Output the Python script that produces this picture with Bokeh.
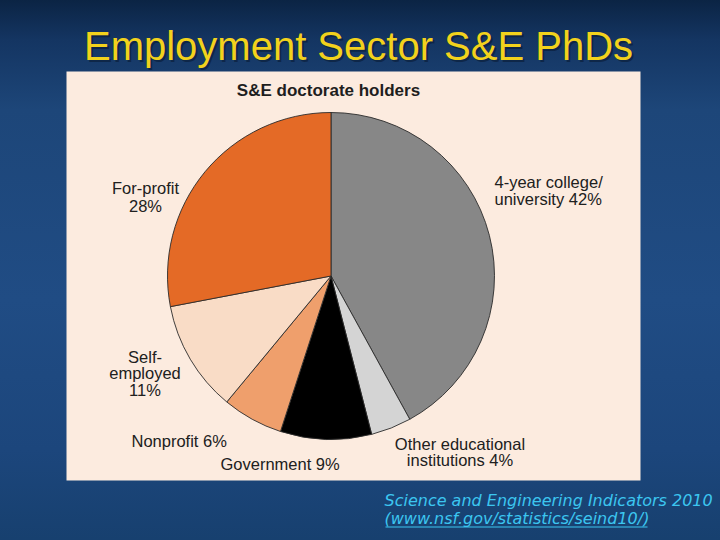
import numpy as np
from bokeh.plotting import figure
from bokeh.models import Range1d, ColumnDataSource, GlobalInlineStyleSheet
from bokeh.core.properties import value
from bokeh.embed import file_html
from bokeh.resources import INLINE

# ---------------- data ----------------
title = "Employment Sector S&E PhDs"
subtitle = "S&E doctorate holders"
sectors = ["4-year college/university", "Other educational institutions",
           "Government", "Nonprofit", "Self-employed", "For-profit"]
shares = [42, 4, 9, 6, 11, 28]
slice_colors = ["#878787", "#d4d4d4", "#000000", "#ef9f6c", "#f9dcc6", "#e46a26"]
label_templates = [["4-year college/", "university {}%"],
                   ["Other educational", "institutions {}%"],
                   ["Government {}%"],
                   ["Nonprofit {}%"],
                   ["Self-", "employed", "{}%"],
                   ["For-profit", "{}%"]]
source_lines = ["Science and Engineering Indicators 2010",
                "(www.nsf.gov/statistics/seind10/)"]

# ---------------- layout (page pixel coords) ----------------
W, H = 720, 540
def Y(py):
    return H - py

cx, cy, rad = 330.5, 275.5, 163.5
# anchor x, first line centre y, align, line spacing
label_layout = [(494, 181, "left", 17.5),
                (459.5, 443, "center", 16.5),
                (220, 463, "left", 17),
                (131, 440, "left", 17),
                (144.5, 356, "center", 16.8),
                (145, 187, "center", 18)]

p = figure(width=W, height=H, output_backend="svg", toolbar_location=None,
           x_range=Range1d(0, W), y_range=Range1d(0, H),
           x_axis_type=None, y_axis_type=None, min_border=0)
p.grid.visible = False
p.outline_line_color = None
p.background_fill_alpha = 0
p.border_fill_alpha = 0
p.stylesheets = [GlobalInlineStyleSheet(css=(
    "html, body { background: linear-gradient(180deg, #0b2444 0px, #143562 40px, "
    "#1d4679 110px, #204c84 300px, #1c467c 450px, #17406f 540px) no-repeat; "
    "background-color: #1c4478; overflow: hidden; }"))]

# panel
p.quad(left=66, right=640, top=Y(71), bottom=Y(480),
       fill_color="#fcebdf", line_color=None)

# title with shadow
p.text(x=[358 + 2], y=[Y(45) - 2], text=[title], text_align="center",
       text_baseline="middle", text_font=value("Liberation Sans"),
       text_font_size="40px", text_color="#06142a", text_alpha=0.5)
p.text(x=[358], y=[Y(45)], text=[title], text_align="center",
       text_baseline="middle", text_font=value("Liberation Sans"),
       text_font_size="40px", text_color="#f2d21c")

# subtitle
p.text(x=[328], y=[Y(90)], text=[subtitle], text_align="center",
       text_baseline="middle", text_font=value("Liberation Sans"),
       text_font_style="bold", text_font_size="17px", text_color="#1e1e1e")

# pie
frac = np.cumsum([0] + shares) / sum(shares)
start = np.pi / 2 - 2 * np.pi * frac[:-1]
end = np.pi / 2 - 2 * np.pi * frac[1:]
src = ColumnDataSource(dict(sector=sectors, share=shares, start=start, end=end,
                            color=slice_colors))
p.wedge(x=cx, y=Y(cy), radius=rad, start_angle="start", end_angle="end",
        direction="clock", fill_color="color", line_color="#2b2b2b",
        line_width=0.9, source=src)

# labels
for tmpl, share, (lx, ly, al, sp) in zip(label_templates, shares, label_layout):
    lines = [t.format(share) for t in tmpl]
    ys = [Y(ly + i * sp) for i in range(len(lines))]
    p.text(x=[lx] * len(lines), y=ys, text=lines, text_align=al,
           text_baseline="middle", text_font=value("Liberation Sans"),
           text_font_size="16.5px", text_color="#202020")

# source caption
p.text(x=[384, 384], y=[Y(500.3), Y(517.8)], text=source_lines, text_align="left",
       text_baseline="middle", text_font=value("DejaVu Sans"),
       text_font_style="italic", text_font_size="16px", text_color="#3cc6f0")
p.segment(x0=[385], y0=[Y(526.5)], x1=[647], y1=[Y(526.5)],
          line_color="#3cc6f0", line_width=1)

open("out.html", "w").write(file_html(p, INLINE))
